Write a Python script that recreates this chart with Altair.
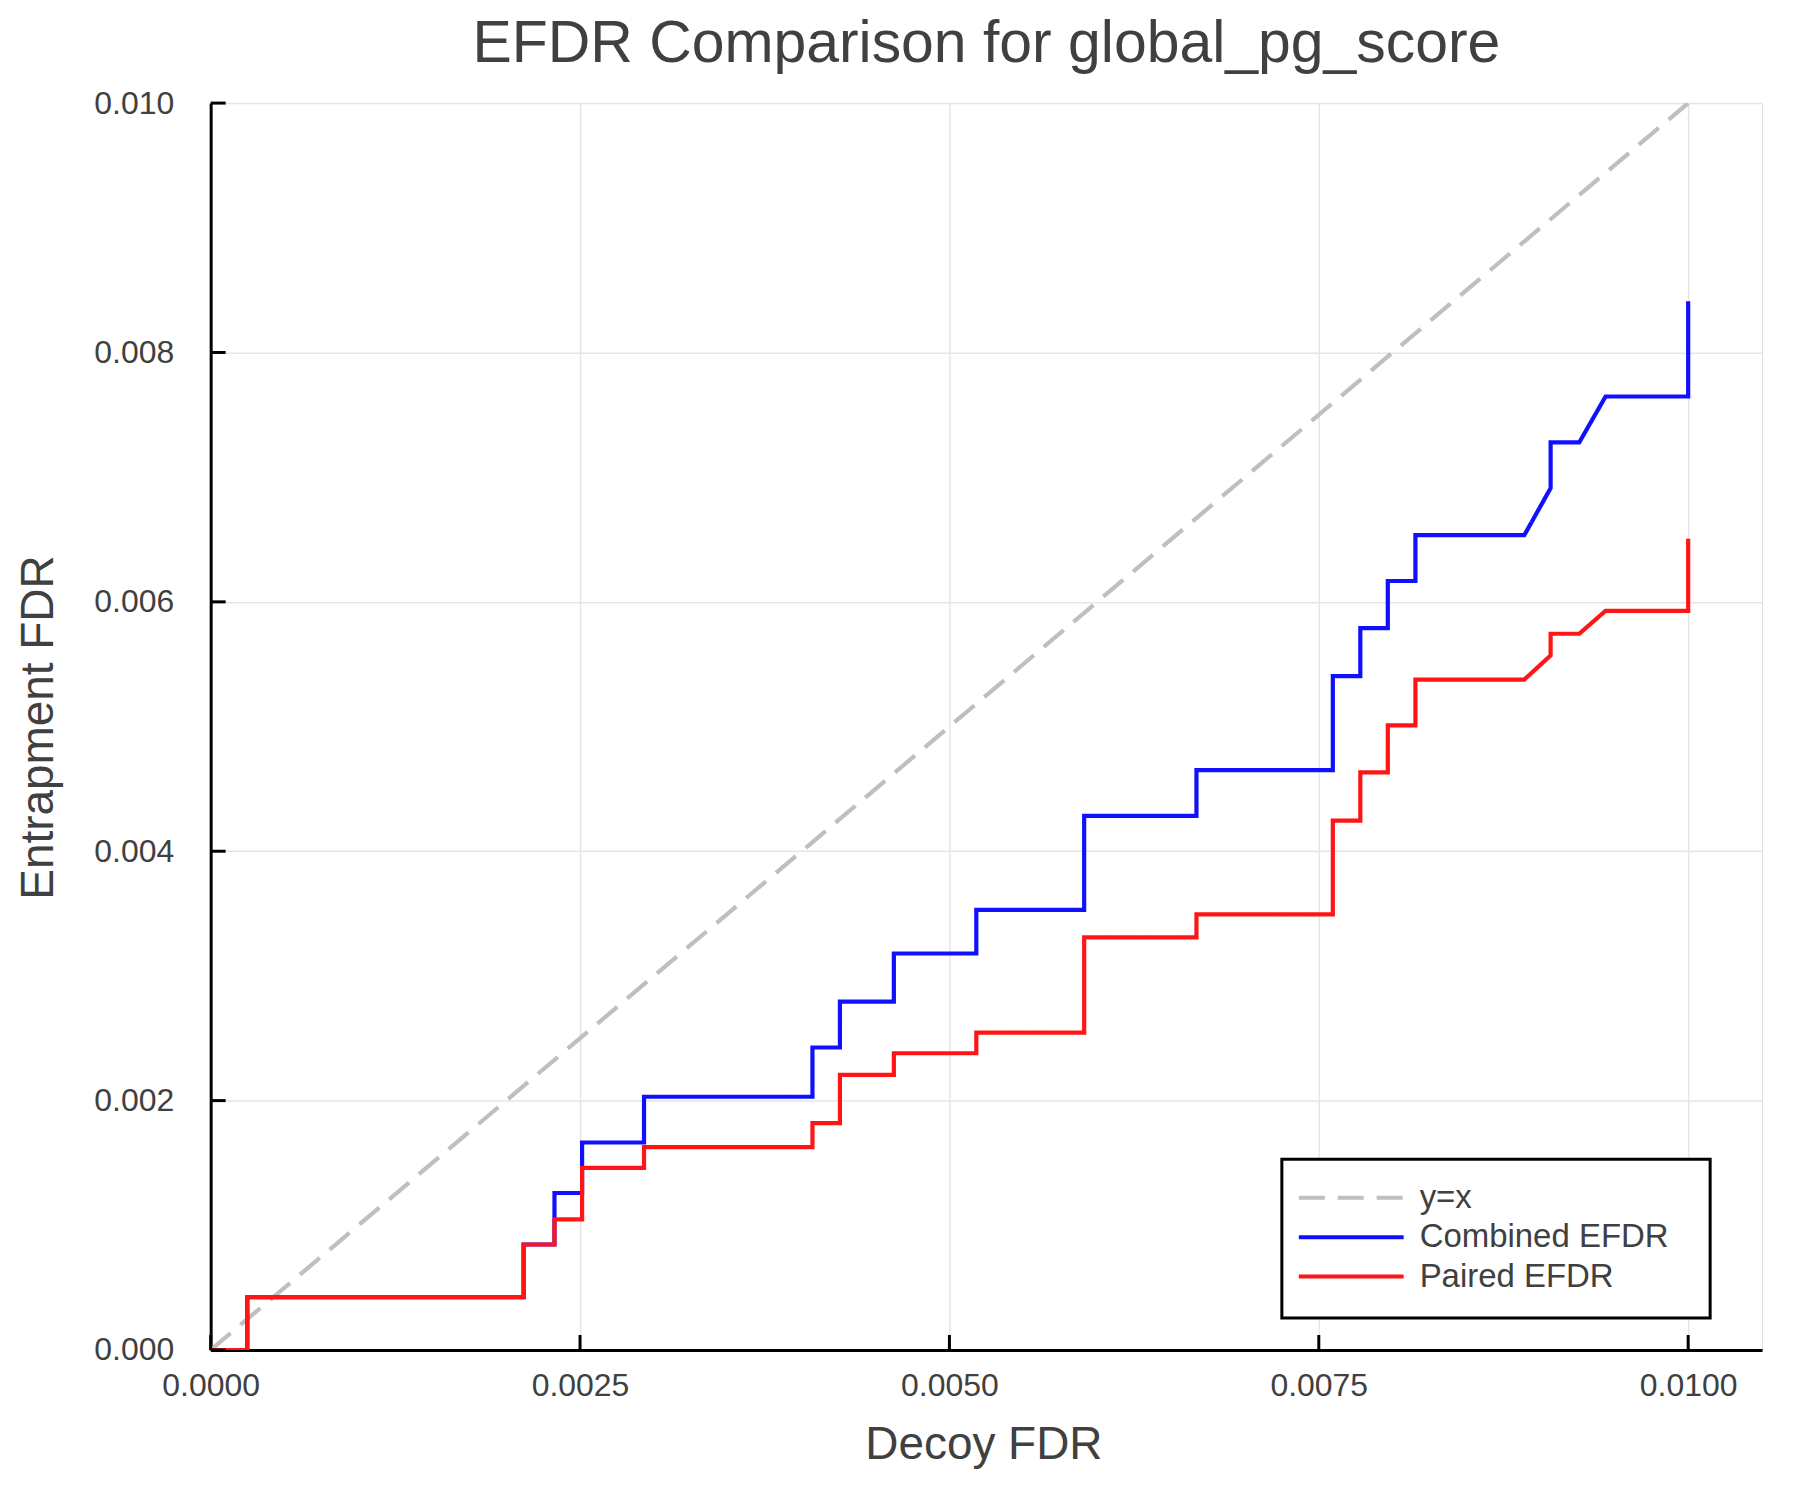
import altair as alt
import pandas as pd

# ---------------- data ----------------
series_names = ["y=x", "Combined EFDR", "Paired EFDR"]
series_colors = ["#bfbfbf", "#1010ff", "#ff1515"]

diag_x = [0.0, 0.01]
diag_y = [0.0, 0.01]

combined_x = [0.0, 0.000248, 0.000248, 0.002118, 0.002118, 0.002327, 0.002327,
              0.002514, 0.002514, 0.002933, 0.002933, 0.004073, 0.004073,
              0.004259, 0.004259, 0.004624, 0.004624, 0.005182, 0.005182,
              0.005912, 0.005912, 0.006672, 0.006672, 0.007595, 0.007595,
              0.007781, 0.007781, 0.007967, 0.007967, 0.008154, 0.008154,
              0.008891, 0.009069, 0.009069, 0.009263, 0.009441, 0.010000,
              0.010000]
combined_y = [0.0, 0.0, 0.000423, 0.000423, 0.000846, 0.000846, 0.001259,
              0.001259, 0.001664, 0.001664, 0.002031, 0.002031, 0.002426,
              0.002426, 0.002794, 0.002794, 0.003180, 0.003180, 0.003529,
              0.003529, 0.004283, 0.004283, 0.004651, 0.004651, 0.005404,
              0.005404, 0.005790, 0.005790, 0.006167, 0.006167, 0.006535,
              0.006535, 0.006912, 0.007279, 0.007279, 0.007647, 0.007647,
              0.008410]

paired_x = [0.0, 0.000248, 0.000248, 0.002118, 0.002118, 0.002327, 0.002327,
            0.002514, 0.002514, 0.002933, 0.002933, 0.004073, 0.004073,
            0.004259, 0.004259, 0.004624, 0.004624, 0.005182, 0.005182,
            0.005912, 0.005912, 0.006672, 0.006672, 0.007595, 0.007595,
            0.007781, 0.007781, 0.007967, 0.007967, 0.008154, 0.008154,
            0.008891, 0.009069, 0.009069, 0.009263, 0.009441, 0.010000,
            0.010000]
paired_y = [0.0, 0.0, 0.000423, 0.000423, 0.000846, 0.000846, 0.001048,
            0.001048, 0.001461, 0.001461, 0.001627, 0.001627, 0.001820,
            0.001820, 0.002206, 0.002206, 0.002380, 0.002380, 0.002546,
            0.002546, 0.003309, 0.003309, 0.003493, 0.003493, 0.004246,
            0.004246, 0.004632, 0.004632, 0.005009, 0.005009, 0.005377,
            0.005377, 0.005570, 0.005744, 0.005744, 0.005928, 0.005928,
            0.006507]

x_ticks = [0.0, 0.0025, 0.005, 0.0075, 0.01]
y_ticks = [0.0, 0.002, 0.004, 0.006, 0.008, 0.010]

rows = []
for name, xs, ys in [(series_names[0], diag_x, diag_y),
                     (series_names[1], combined_x, combined_y),
                     (series_names[2], paired_x, paired_y)]:
    for i, (a, b) in enumerate(zip(xs, ys)):
        rows.append({"series": name, "x": a, "y": b, "i": i})
df = pd.DataFrame(rows)

# ---------------- styling ----------------
FONT = "Liberation Sans"
TXT = "#404040"
W, H = 1554, 1249

xscale = alt.Scale(domain=[0, 0.0105], nice=False, zero=False)
yscale = alt.Scale(domain=[0, 0.01], nice=False, zero=False)

x_axis = alt.Axis(values=x_ticks, format=".4f", title="Decoy FDR",
                  titleFont=FONT, titleFontSize=46, titleFontWeight="normal",
                  titleColor=TXT, titleX=774, titleY=109,
                  titleBaseline="alphabetic", titleAlign="center",
                  labelFont=FONT, labelFontSize=32, labelColor=TXT,
                  labelPadding=21, labelFlush=False, labelOverlap=False,
                  ticks=False, tickSize=0, domainColor="black", domainWidth=3,
                  grid=True, gridColor="#e6e6e6", gridWidth=1.5)
y_axis = alt.Axis(values=y_ticks, format=".3f", title="Entrapment FDR",
                  titleFont=FONT, titleFontSize=46, titleFontWeight="normal",
                  titleColor=TXT, titleX=-158, titleY=625, titleAngle=270,
                  titleBaseline="alphabetic", titleAlign="center",
                  labelFont=FONT, labelFontSize=32, labelColor=TXT,
                  labelPadding=37, labelFlush=False, labelOverlap=False,
                  ticks=False, tickSize=0, domainColor="black", domainWidth=3,
                  grid=True, gridColor="#e6e6e6", gridWidth=1.5)

lines = alt.Chart(df).mark_line(strokeWidth=4.2, clip=True).encode(
    x=alt.X("x:Q", scale=xscale, axis=x_axis),
    y=alt.Y("y:Q", scale=yscale, axis=y_axis),
    color=alt.Color("series:N", sort=series_names,
                    scale=alt.Scale(domain=series_names, range=series_colors),
                    legend=alt.Legend(title=None)),
    strokeDash=alt.StrokeDash("series:N", sort=series_names,
                              scale=alt.Scale(domain=series_names,
                                              range=[[26, 13], [1, 0], [1, 0]]),
                              legend=alt.Legend(title=None)),
    order=alt.Order("i:Q"),
)

xt = alt.Chart(pd.DataFrame({"x": x_ticks})).mark_rule(
    color="black", strokeWidth=3).encode(
    x=alt.X("x:Q", scale=xscale, axis=x_axis),
    y=alt.value(H), y2=alt.value(H - 15))
yt = alt.Chart(pd.DataFrame({"y": y_ticks})).mark_rule(
    color="black", strokeWidth=3).encode(
    y=alt.Y("y:Q", scale=yscale, axis=y_axis),
    x=alt.value(0), x2=alt.value(15))

legend_box = alt.Chart(pd.DataFrame({"a": [0]})).mark_rect(
    fill="white", stroke="black", strokeWidth=3).encode(
    x=alt.value(1073), x2=alt.value(1502),
    y=alt.value(1058), y2=alt.value(1217))

chart = alt.layer(lines, xt, yt, legend_box).properties(
    width=W, height=H,
    title=alt.TitleParams(text="EFDR Comparison for global_pg_score",
                          font=FONT, fontSize=59, fontWeight="normal",
                          color=TXT, anchor="middle", baseline="alphabetic",
                          offset=-34),
    padding={"left": 203, "top": 94, "right": 30, "bottom": 140},
    autosize=alt.AutoSizeParams(type="none"),
).configure_view(strokeWidth=0, stroke="transparent").configure(
    background="white").configure_legend(
    orient="none", legendX=1088, legendY=1078, padding=0,
    symbolType="stroke", symbolSize=11025, symbolStrokeWidth=4,
    labelFont=FONT, labelFontSize=33, labelColor=TXT, labelOffset=14,
    clipHeight=37, rowPadding=2.5, labelLimit=400,
)

chart.save("out.html", embed_options={"renderer": "svg", "actions": False})
